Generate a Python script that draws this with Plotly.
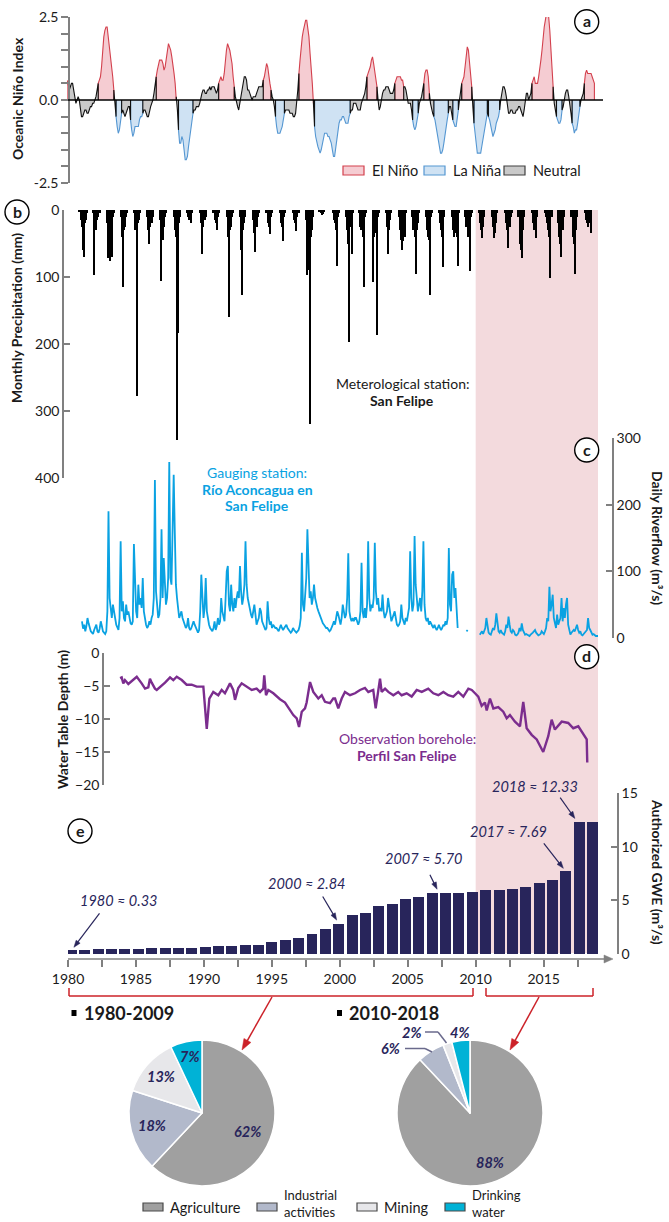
import math
import plotly.graph_objects as go

# ---------------------------------------------------------------- data
# Oceanic Niño Index, 3-month running means (DJF ... NDJ), 1980 - mid 2019
oni = [
    0.6, 0.5, 0.3, 0.4, 0.5, 0.5, 0.3, 0.0, -0.1, 0.0, 0.1, 0.0,            # 1980
    -0.3, -0.5, -0.5, -0.4, -0.3, -0.3, -0.4, -0.4, -0.3, -0.2, -0.2, -0.1,  # 1981
    -0.1, 0.0, 0.1, 0.3, 0.5, 0.6, 0.7, 1.0, 1.5, 1.9, 2.1, 2.2,            # 1982
    2.2, 1.9, 1.5, 1.3, 1.1, 0.7, 0.3, -0.1, -0.5, -0.8, -1.0, -0.9,        # 1983
    -0.6, -0.4, -0.3, -0.4, -0.5, -0.4, -0.3, -0.2, -0.2, -0.6, -0.9, -1.1,  # 1984
    -1.0, -0.8, -0.8, -0.8, -0.8, -0.6, -0.5, -0.5, -0.4, -0.3, -0.3, -0.4,  # 1985
    -0.5, -0.5, -0.3, -0.2, -0.1, 0.0, 0.2, 0.4, 0.7, 0.9, 1.1, 1.2,        # 1986
    1.2, 1.2, 1.1, 0.9, 1.0, 1.2, 1.5, 1.7, 1.6, 1.5, 1.3, 1.1,             # 1987
    0.8, 0.5, 0.1, -0.3, -0.9, -1.3, -1.3, -1.1, -1.2, -1.5, -1.8, -1.8,    # 1988
    -1.7, -1.4, -1.1, -0.8, -0.6, -0.4, -0.3, -0.3, -0.2, -0.2, -0.2, -0.1,  # 1989
    0.1, 0.2, 0.3, 0.3, 0.2, 0.2, 0.3, 0.3, 0.4, 0.3, 0.4, 0.4,             # 1990
    0.4, 0.3, 0.2, 0.3, 0.5, 0.6, 0.7, 0.6, 0.6, 0.8, 1.2, 1.5,             # 1991
    1.7, 1.6, 1.5, 1.3, 1.1, 0.7, 0.4, 0.1, -0.1, -0.2, -0.3, -0.1,         # 1992
    0.1, 0.3, 0.5, 0.7, 0.7, 0.6, 0.3, 0.3, 0.2, 0.1, 0.0, 0.1,             # 1993
    0.1, 0.1, 0.2, 0.3, 0.4, 0.4, 0.4, 0.4, 0.6, 0.7, 1.0, 1.1,             # 1994
    1.0, 0.7, 0.5, 0.3, 0.1, 0.0, -0.2, -0.5, -0.8, -1.0, -1.0, -1.0,       # 1995
    -0.9, -0.8, -0.6, -0.4, -0.3, -0.3, -0.3, -0.3, -0.4, -0.4, -0.4, -0.5,  # 1996
    -0.5, -0.4, -0.1, 0.3, 0.8, 1.2, 1.6, 1.9, 2.1, 2.3, 2.4, 2.4,          # 1997
    2.2, 1.9, 1.4, 1.0, 0.5, -0.1, -0.8, -1.1, -1.3, -1.4, -1.5, -1.6,      # 1998
    -1.5, -1.3, -1.1, -1.0, -1.0, -1.0, -1.1, -1.1, -1.2, -1.3, -1.5, -1.7,  # 1999
    -1.7, -1.4, -1.1, -0.8, -0.7, -0.6, -0.6, -0.5, -0.5, -0.6, -0.7, -0.7,  # 2000
    -0.7, -0.5, -0.4, -0.3, -0.3, -0.1, -0.1, -0.1, -0.2, -0.3, -0.3, -0.3,  # 2001
    -0.1, 0.0, 0.1, 0.2, 0.4, 0.7, 0.8, 0.9, 1.0, 1.2, 1.3, 1.1,            # 2002
    0.9, 0.6, 0.4, 0.0, -0.3, -0.2, 0.1, 0.2, 0.3, 0.3, 0.4, 0.4,           # 2003
    0.4, 0.3, 0.2, 0.2, 0.2, 0.3, 0.5, 0.6, 0.7, 0.7, 0.7, 0.7,             # 2004
    0.6, 0.6, 0.4, 0.4, 0.3, 0.1, -0.1, -0.1, -0.1, -0.3, -0.6, -0.8,       # 2005
    -0.9, -0.8, -0.6, -0.4, -0.1, 0.0, 0.1, 0.3, 0.5, 0.8, 0.9, 0.9,        # 2006
    0.7, 0.2, -0.1, -0.3, -0.4, -0.5, -0.6, -0.8, -1.1, -1.3, -1.5, -1.6,   # 2007
    -1.6, -1.5, -1.3, -1.0, -0.8, -0.6, -0.4, -0.2, -0.2, -0.4, -0.6, -0.7,  # 2008
    -0.8, -0.8, -0.6, -0.3, 0.0, 0.3, 0.5, 0.6, 0.7, 1.0, 1.4, 1.6,         # 2009
    1.5, 1.2, 0.8, 0.4, -0.2, -0.7, -1.0, -1.3, -1.6, -1.6, -1.6, -1.6,     # 2010
    -1.4, -1.2, -0.9, -0.7, -0.6, -0.4, -0.5, -0.6, -0.8, -1.0, -1.1, -1.0,  # 2011
    -0.9, -0.7, -0.6, -0.5, -0.3, 0.0, 0.2, 0.4, 0.4, 0.3, 0.1, -0.2,       # 2012
    -0.4, -0.4, -0.3, -0.3, -0.4, -0.4, -0.4, -0.3, -0.3, -0.2, -0.2, -0.3,  # 2013
    -0.4, -0.5, -0.3, 0.0, 0.2, 0.2, 0.0, 0.1, 0.2, 0.5, 0.6, 0.7,          # 2014
    0.5, 0.5, 0.5, 0.7, 0.9, 1.2, 1.5, 1.9, 2.2, 2.4, 2.6, 2.6,             # 2015
    2.5, 2.1, 1.6, 0.9, 0.4, -0.1, -0.4, -0.5, -0.6, -0.7, -0.7, -0.6,      # 2016
    -0.3, -0.2, 0.1, 0.2, 0.3, 0.3, 0.1, -0.1, -0.4, -0.7, -0.8, -1.0,      # 2017
    -0.9, -0.9, -0.7, -0.5, -0.2, 0.0, 0.1, 0.2, 0.5, 0.8, 0.9, 0.8,        # 2018
    0.8, 0.8, 0.8, 0.7, 0.6, 0.5,                                           # 2019
]
oni_start = 1980

# Monthly precipitation (mm), San Felipe, Jan-Dec, 1980-2018
precip_mm = [
    0, 3, 0, 15, 25, 60, 70, 20, 15, 5, 0, 0,        # 1980
    0, 0, 5, 97, 25, 30, 15, 10, 5, 0, 0, 0,         # 1981
    0, 0, 0, 20, 72, 76, 40, 70, 10, 5, 0, 0,        # 1982
    0, 0, 0, 10, 40, 115, 30, 25, 10, 5, 0, 0,       # 1983
    0, 0, 0, 5, 30, 25, 277, 20, 15, 5, 0, 0,        # 1984
    0, 0, 0, 10, 30, 51, 25, 20, 10, 0, 0, 0,        # 1985
    0, 0, 0, 15, 106, 45, 25, 10, 5, 0, 0, 0,        # 1986
    0, 0, 0, 10, 30, 40, 343, 184, 20, 10, 0, 0,     # 1987
    0, 0, 0, 5, 10, 15, 12, 20, 5, 0, 0, 0,          # 1988
    0, 0, 0, 5, 20, 65, 25, 15, 10, 0, 0, 0,         # 1989
    0, 0, 0, 5, 15, 20, 30, 10, 5, 0, 0, 0,          # 1990
    0, 0, 0, 10, 40, 160, 30, 25, 10, 5, 0, 0,       # 1991
    0, 0, 0, 10, 60, 127, 30, 20, 10, 0, 0, 0,       # 1992
    0, 0, 0, 15, 35, 62, 25, 10, 5, 0, 0, 0,         # 1993
    0, 0, 0, 5, 20, 25, 36, 10, 5, 0, 0, 0,          # 1994
    0, 0, 0, 5, 20, 25, 47, 10, 5, 0, 0, 0,          # 1995
    0, 0, 0, 5, 15, 20, 31, 10, 5, 0, 0, 0,          # 1996
    0, 0, 0, 15, 97, 90, 319, 40, 30, 10, 0, 0,      # 1997
    0, 0, 0, 2, 5, 8, 6, 3, 0, 0, 0, 0,              # 1998
    0, 0, 0, 5, 15, 20, 30, 83, 10, 5, 0, 0,         # 1999
    0, 0, 0, 10, 30, 50, 197, 25, 65, 5, 0, 0,       # 2000
    0, 0, 0, 5, 25, 30, 40, 115, 10, 5, 0, 0,        # 2001
    0, 0, 0, 107, 40, 30, 35, 187, 10, 5, 0, 0,      # 2002
    0, 0, 0, 5, 25, 66, 30, 15, 5, 0, 0, 0,          # 2003
    0, 0, 0, 10, 30, 45, 60, 47, 40, 5, 0, 0,        # 2004
    0, 0, 0, 10, 30, 40, 95, 30, 20, 5, 0, 0,        # 2005
    0, 0, 0, 10, 30, 40, 45, 127, 10, 5, 0, 0,       # 2006
    0, 0, 0, 5, 20, 30, 40, 85, 10, 0, 0, 0,         # 2007
    0, 0, 0, 10, 30, 40, 35, 40, 84, 5, 0, 0,        # 2008
    0, 0, 0, 10, 25, 40, 35, 91, 10, 5, 0, 0,        # 2009
    0, 0, 0, 5, 20, 30, 42, 25, 10, 0, 0, 0,         # 2010
    0, 0, 0, 10, 25, 42, 35, 20, 5, 0, 0, 0,         # 2011
    0, 0, 0, 5, 20, 30, 57, 25, 10, 5, 0, 0,         # 2012
    0, 0, 0, 10, 50, 60, 72, 30, 10, 0, 0, 0,        # 2013
    0, 0, 0, 5, 20, 30, 25, 42, 10, 0, 0, 0,         # 2014
    0, 0, 0, 5, 10, 20, 30, 40, 102, 10, 0, 0,       # 2015
    0, 0, 0, 20, 40, 50, 70, 30, 10, 0, 0, 0,        # 2016
    0, 0, 0, 10, 40, 50, 95, 30, 10, 0, 0, 0,        # 2017
    0, 0, 0, 5, 15, 20, 25, 20, 10, 34, 0, 0,        # 2018
]
precip_start = 1980

# Riverflow (m3/s), Río Aconcagua en San Felipe, monthly steps from May 1980
# (None = no record)
river_q = [
    25, 14, 20, 10, 18, 30, 22, 15,                              # 1980 (May-Dec)
    10, 8, 6, 12, 15, 20, 10, 8, 14, 25, 18, 10,                 # 1981
    8, 6, 10, 40, 190, 60, 45, 30, 50, 35, 30, 20,               # 1982
    15, 12, 30, 145, 40, 55, 30, 25, 50, 35, 40, 30,             # 1983
    22, 20, 25, 141, 100, 40, 30, 80, 50, 60, 45, 90,            # 1984
    40, 25, 20, 15, 18, 25, 20, 30, 35, 60, 237, 70,             # 1985
    40, 30, 35, 60, 163, 60, 120, 80, 50, 60, 90, 264,           # 1986
    90, 80, 150, 245, 160, 80, 60, 40, 30, 35, 40, 30,           # 1987
    25, 20, 15, 18, 30, 15, 12, 15, 20, 25, 20, 15,              # 1988
    10, 8, 12, 40, 95, 60, 30, 45, 90, 40, 25, 20,               # 1989
    15, 12, 10, 15, 25, 12, 18, 30, 20, 25, 60, 40,              # 1990
    30, 25, 60, 100, 108, 50, 40, 80, 50, 40, 60, 45,            # 1991
    60, 70, 60, 108, 70, 50, 60, 80, 145, 80, 60, 50,            # 1992
    40, 35, 30, 40, 50, 35, 20, 25, 30, 45, 40, 25,              # 1993
    20, 15, 12, 15, 55, 30, 20, 25, 15, 20, 18, 15,              # 1994
    15, 12, 10, 15, 20, 15, 12, 15, 18, 20, 15, 12,              # 1995
    10, 8, 10, 15, 12, 10, 8, 10, 12, 18, 30, 128,               # 1996
    50, 40, 60, 90, 163, 100, 60, 70, 50, 60, 80, 60,            # 1997
    50, 45, 40, 35, 30, 25, 22, 20, 18, 15, 15, 12,              # 1998
    10, 12, 15, 20, 25, 20, 30, 40, 35, 25, 20, 30,              # 1999
    50, 40, 30, 35, 60, 127, 40, 30, 25, 30, 25, 30,             # 2000
    30, 25, 20, 25, 40, 113, 40, 30, 45, 30, 50, 145,            # 2001
    60, 40, 50, 45, 60, 143, 70, 50, 60, 40, 45, 40,             # 2002
    65, 40, 30, 35, 40, 60, 45, 30, 25, 30, 35, 40,              # 2003
    30, 20, 18, 20, 25, 50, 30, 25, 20, 30, 25, 35,              # 2004
    45, 130, 60, 40, 50, 153, 80, 60, 40, 50, 60, 40,            # 2005
    70, 145, 50, 30, 25, 30, 20, 25, 20, 18, 15, 20,             # 2006
    15, 12, 15, 20, 15, 12, 15, 20, 18, 25, 20, 30,              # 2007
    135, 50, 40, 95, 100, 60, 75, 40, 15, None, None, None,      # 2008
    None, None, None, None, 10, 12, None, None, None, None, None, None,  # 2009
    None, None, None, None, 5, 8, 10, 6, 12, 15, 30, 20,         # 2010
    8, 6, 5, 10, 15, 12, 20, 37, 25, 10, 8, 12,                  # 2011
    8, 6, 5, 10, 20, 15, 32, 20, 10, 8, 12, 10,                  # 2012
    5, 4, 5, 8, 15, 10, 22, 12, 8, 5, 6, 5,                      # 2013
    4, 3, 5, 6, 8, 10, 12, 8, 6, 4, 5, 6,                        # 2014
    10, 8, 6, 10, 15, 30, 25, 77, 40, 50, 65, 30,                # 2015
    20, 15, 35, 20, 25, 30, 60, 25, 45, 30, 50, 60,              # 2016
    20, 10, 5, 8, 10, 12, 10, 15, 20, 12, 8, 10,                 # 2017
    5, 4, 6, 8, 10, 12, 30, 15, 12, 8, 5, 6,                     # 2018
    4, 3, 3, 3,                                                  # 2019
]
river_start = 1980 + 4.5 / 12

# Water table depth (m), observation borehole Perfil San Felipe
wt_t = [
    1983.83, 1983.95, 1984.07, 1984.19, 1984.44, 1984.69, 1985.06, 1985.42, 1985.67, 1985.91,
    1986.03, 1986.16, 1986.40, 1986.53, 1986.77, 1987.14, 1987.51, 1987.75, 1988.00, 1988.37,
    1988.73, 1989.10, 1989.47, 1989.96, 1990.21, 1990.40, 1990.69, 1991.06, 1991.31, 1991.55,
    1991.92, 1992.16, 1992.29, 1992.53, 1992.78, 1993.15, 1993.52, 1993.88, 1994.13, 1994.37,
    1994.44, 1994.57, 1994.74, 1995.11, 1995.36, 1995.60, 1995.97, 1996.21, 1996.58, 1996.83,
    1997.00, 1997.20, 1997.44, 1997.56, 1997.81, 1998.05, 1998.42, 1998.67, 1998.91, 1999.28,
    1999.52, 1999.65, 1999.89, 2000.14, 2000.38, 2000.75, 2001.12, 2001.49, 2001.85, 2002.10,
    2002.46, 2002.64, 2002.79, 2002.96, 2003.08, 2003.33, 2003.57, 2003.94, 2004.30, 2004.55,
    2004.92, 2005.29, 2005.66, 2006.03, 2006.51, 2006.88, 2007.25, 2007.62, 2007.98, 2008.35,
    2008.72, 2009.09, 2009.46, 2009.71, 2009.95, 2010.19, 2010.44, 2010.68, 2010.81, 2011.05,
    2011.30, 2011.66, 2012.03, 2012.28, 2012.52, 2012.89, 2013.26, 2013.50, 2013.75, 2014.12,
    2014.49, 2014.97, 2015.34, 2015.59, 2015.83, 2016.33, 2016.81, 2017.18, 2017.55, 2017.92,
    2018.17, 2018.21,
]
wt_m = [
    -3.8, -3.7, -4.6, -4.1, -4.7, -4.2, -3.6, -4.6, -5.4, -5.2,
    -3.9, -4.5, -5.4, -5.6, -5.2, -4.5, -3.7, -4.1, -3.6, -4.1,
    -4.8, -4.8, -5.1, -5.1, -11.5, -6.9, -5.9, -6.4, -5.6, -6.1,
    -4.6, -5.6, -7.1, -5.3, -4.6, -5.1, -5.6, -5.4, -5.9, -5.4,
    -3.4, -6.4, -5.6, -6.1, -6.6, -7.0, -7.5, -8.2, -9.4, -9.9,
    -11.2, -8.9, -8.4, -7.5, -4.4, -5.9, -6.9, -6.4, -7.4, -7.6,
    -6.9, -6.9, -8.4, -6.9, -5.9, -6.4, -6.1, -5.6, -5.3, -5.9,
    -5.6, -8.4, -5.9, -3.9, -5.9, -5.4, -5.9, -6.4, -5.9, -6.4,
    -6.1, -6.6, -5.6, -5.9, -5.4, -6.1, -6.4, -5.9, -6.4, -6.6,
    -5.9, -6.6, -5.4, -5.6, -6.1, -6.6, -8.0, -7.5, -8.7, -6.9,
    -8.4, -8.2, -8.9, -9.9, -9.4, -10.4, -11.1, -7.4, -11.4, -12.4,
    -13.1, -15.0, -12.6, -10.1, -11.6, -10.4, -10.6, -11.4, -11.1, -12.4,
    -13.1, -16.6,
]

# Authorized groundwater extraction (m3/s), 1980-2019
gwe_years = list(range(1980, 2020))
gwe = [
    0.33, 0.40, 0.42, 0.46, 0.48, 0.50, 0.53, 0.55, 0.57, 0.60,
    0.63, 0.72, 0.78, 0.84, 0.87, 1.08, 1.27, 1.45, 1.85, 2.34,
    2.84, 3.68, 3.86, 4.48, 4.69, 5.12, 5.33, 5.70, 5.70, 5.72,
    5.82, 5.95, 6.00, 6.04, 6.25, 6.64, 6.90, 7.69, 12.33, 12.33,
]
gwe_callouts = [(1980, 0.33), (2000, 2.84), (2007, 5.70), (2017, 7.69), (2018, 12.33)]

# Water-use shares (%)
uses = ["Agriculture", "Industrial activities", "Mining", "Drinking water"]
share_1980_2009 = [62, 18, 13, 7]
share_2010_2018 = [88, 6, 2, 4]

# ---------------------------------------------------------------- styling
W, H = 669, 1222
FONT = "Lato"
INK = "#1a1a1a"
GRAY = "#808080"
NAVY = "#28255b"
RED = "#cc2229"
RIVER = "#0aa2e2"
PURPLE = "#7b2d8e"
PINK_BAND = "#f3dadd"
USE_COLORS = ["#a0a0a0", "#b2b9cb", "#e7e7ea", "#00b2d6"]
ENSO = {"E": ("#f5ccd2", "#d3404d"), "L": ("#cfe2f3", "#5597d2"), "N": ("#c9c9c9", "#111111")}

# axis geometry (pixels on the page)
GWE_X_RANGE = [1980 - 3.5 / 13.36, 1980 + (598 - 71.5) / 13.36]
GWE_X_PX = (68, 598)
GWE_Y_RANGE = [0, 15]
GWE_Y_PX = (954, 793)


def px(x):
    return x / W


def py(y):
    return 1 - y / H


def gwe_to_px(year, value):
    fx = (year - GWE_X_RANGE[0]) / (GWE_X_RANGE[1] - GWE_X_RANGE[0])
    fy = (value - GWE_Y_RANGE[0]) / (GWE_Y_RANGE[1] - GWE_Y_RANGE[0])
    return (GWE_X_PX[0] + fx * (GWE_X_PX[1] - GWE_X_PX[0]),
            GWE_Y_PX[0] + fy * (GWE_Y_PX[1] - GWE_Y_PX[0]))


fig = go.Figure()

# ---------------------------------------------------------------- (a) ONI
def enso_phase(vals, thr=0.5, run=5):
    n = len(vals)
    ph = ["N"] * n
    for sign, tag in ((1, "E"), (-1, "L")):
        i = 0
        while i < n:
            if sign * vals[i] >= thr:
                j = i
                while j + 1 < n and sign * vals[j + 1] >= thr:
                    j += 1
                if j - i + 1 >= run or i == 0 or j == n - 1:
                    for k in range(i, j + 1):
                        ph[k] = tag
                i = j + 1
            else:
                i += 1
    return ph


phase = enso_phase(oni)
t_oni = [oni_start + k / 12 for k in range(len(oni))]
n = len(oni)
segments = []
k = 0
while k < n:
    j = k
    while j + 1 < n and phase[j + 1] == phase[k]:
        j += 1
    end = min(j + 1, n - 1)
    xs = [t_oni[k]] + t_oni[k:end + 1] + [t_oni[end]]
    ys = [0] + oni[k:end + 1] + [0]
    segments.append((phase[k], xs, ys))
    k = j + 1

for tag in ("E", "L", "N"):
    for ph, xs, ys in segments:
        if ph != tag:
            continue
        fig.add_trace(go.Scatter(
            x=xs, y=ys, xaxis="x2", yaxis="y2", mode="lines", fill="toself",
            fillcolor=ENSO[tag][0], line=dict(color=ENSO[tag][1], width=1.1),
            hoverinfo="skip", showlegend=False))

# ---------------------------------------------------------------- (b) precipitation
t_pr = [precip_start + (k + 0.5) / 12 for k in range(len(precip_mm))]
fig.add_trace(go.Bar(
    x=t_pr, y=precip_mm, xaxis="x3", yaxis="y3", width=1 / 12,
    marker=dict(color="black", line=dict(width=0)), showlegend=False, hoverinfo="skip"))

# ---------------------------------------------------------------- (c) riverflow
river_t = [river_start + k / 12 for k in range(len(river_q))]
fig.add_trace(go.Scatter(
    x=river_t, y=river_q, xaxis="x3", yaxis="y4", mode="lines",
    line=dict(color=RIVER, width=1.8), connectgaps=False, showlegend=False, hoverinfo="skip"))

# ---------------------------------------------------------------- (d) water table
fig.add_trace(go.Scatter(
    x=wt_t, y=wt_m, xaxis="x", yaxis="y5", mode="lines",
    line=dict(color=PURPLE, width=2.4), showlegend=False, hoverinfo="skip"))

# ---------------------------------------------------------------- (e) authorized GWE
fig.add_trace(go.Bar(
    x=gwe_years, y=gwe, xaxis="x4", yaxis="y", width=0.82,
    marker=dict(color=NAVY, line=dict(width=0)), showlegend=False, hoverinfo="skip"))

# ---------------------------------------------------------------- pies
PIE_R = 73
pies = [(202, 1113, share_1980_2009), (470, 1113, share_2010_2018)]
for cx, cy, vals in pies:
    fig.add_trace(go.Pie(
        values=vals, labels=uses, sort=False, direction="clockwise", rotation=0,
        domain=dict(x=[px(cx - PIE_R), px(cx + PIE_R)], y=[py(cy + PIE_R), py(cy - PIE_R)]),
        marker=dict(colors=USE_COLORS, line=dict(color="white", width=1.5)),
        textinfo="none", showlegend=False, hoverinfo="skip"))

# ---------------------------------------------------------------- axes
tick_font = dict(family=FONT, size=14, color=INK)
common = dict(showgrid=False, zeroline=False, automargin=False)

fig.update_layout(
    template="none",
    width=W, height=H, autosize=False,
    margin=dict(l=0, r=0, t=0, b=0, pad=0, autoexpand=False),
    paper_bgcolor="white", plot_bgcolor="rgba(0,0,0,0)",
    font=dict(family=FONT, color=INK),
    showlegend=False,
    bargap=0,
    xaxis=dict(domain=[px(68), px(598)], range=[1980, 2019], anchor="free", position=py(959),
               tickvals=[1980, 1985, 1990, 1995, 2000, 2005, 2010, 2015],
               ticks="outside", ticklen=7, tickwidth=1.5, tickcolor=GRAY,
               minor=dict(tickvals=[1982.5 + 5 * i for i in range(8)], ticks="outside",
                          ticklen=7, tickwidth=1.5, tickcolor=GRAY, showgrid=False),
               showline=False, tickfont=tick_font, **common),
    xaxis2=dict(domain=[px(67), px(598)], range=[1980, 1980 + 531 / 13.38], anchor="y2",
                visible=False, **common),
    xaxis3=dict(domain=[px(77), px(598)], range=[1980, 1980 + 521 / 13.26], anchor="y3",
                visible=False, **common),
    xaxis4=dict(domain=[px(GWE_X_PX[0]), px(GWE_X_PX[1])], range=GWE_X_RANGE,
                anchor="y", visible=False, **common),
    yaxis=dict(domain=[py(GWE_Y_PX[0]), py(GWE_Y_PX[1])], range=GWE_Y_RANGE, anchor="free",
               position=px(618), side="right", tickvals=[0, 5, 10, 15], ticks="inside",
               ticklen=6, tickwidth=1.5, tickcolor=GRAY, showline=True, linecolor=GRAY,
               linewidth=1.5, tickfont=tick_font, **common),
    yaxis2=dict(domain=[py(183), py(17)], range=[-2.5, 2.5], anchor="free", position=px(69),
                tickvals=[-2.5, 0, 2.5], ticktext=["-2.5", "0.0", "2.5"],
                ticks="outside", ticklen=7, tickwidth=1.5, tickcolor=GRAY,
                minor=dict(tickvals=[-2.0, -1.5, -1.0, -0.5, 0.5, 1.0, 1.5, 2.0],
                           ticks="outside", ticklen=7, tickwidth=1.5, tickcolor=GRAY,
                           showgrid=False),
                showline=True, linecolor=GRAY, linewidth=1.5, tickfont=tick_font, **common),
    yaxis3=dict(domain=[py(478), py(210)], range=[400, 0], anchor="free", position=px(63),
                tickvals=[0, 100, 200, 300, 400], ticks="inside", ticklen=6, tickwidth=1.5,
                tickcolor=GRAY, showline=True, linecolor=GRAY, linewidth=1.5, tickfont=tick_font,
                **common),
    yaxis4=dict(domain=[py(638), py(438)], range=[0, 300], anchor="free", position=px(613),
                side="right", tickvals=[0, 100, 200, 300], ticks="inside", ticklen=6, tickwidth=1.5,
                tickcolor=GRAY, showline=True, linecolor=GRAY, linewidth=1.5, tickfont=tick_font,
                **common),
    yaxis5=dict(domain=[py(785), py(653)], range=[-20, 0], anchor="free", position=px(103),
                tickvals=[0, -5, -10, -15, -20], ticks="inside", ticklen=6, tickwidth=1.5,
                tickcolor=GRAY, showline=True, linecolor=GRAY, linewidth=1.5, tickfont=tick_font,
                **common),
)

# ---------------------------------------------------------------- helpers
def text(x, y, s, size=14, color=INK, bold=False, italic=False, angle=0, xanchor="center",
         yanchor="middle"):
    if bold:
        s = f"<b>{s}</b>"
    if italic:
        s = f"<i>{s}</i>"
    fig.add_annotation(x=px(x), y=py(y), xref="paper", yref="paper", text=s, showarrow=False,
                       font=dict(family=FONT, size=size, color=color), textangle=angle,
                       xanchor=xanchor, yanchor=yanchor, align="left", borderpad=0)


def seg(x0, y0, x1, y1, color, width=1.5):
    fig.add_shape(type="line", xref="paper", yref="paper", x0=px(x0), y0=py(y0), x1=px(x1),
                  y1=py(y1), line=dict(color=color, width=width), layer="above")


def box(x0, y0, x1, y1, fill, edge, width=1.2):
    fig.add_shape(type="rect", xref="paper", yref="paper", x0=px(x0), y0=py(y1), x1=px(x1),
                  y1=py(y0), fillcolor=fill, line=dict(color=edge, width=width), layer="above")


def arrow(x0, y0, x1, y1, color, width=1.5, head_len=8, head_w=6):
    """Straight arrow from (x0, y0) to the tip (x1, y1), page pixels."""
    dx, dy = x1 - x0, y1 - y0
    L = math.hypot(dx, dy)
    ux, uy = dx / L, dy / L
    bx, by = x1 - ux * head_len, y1 - uy * head_len
    seg(x0, y0, bx + ux, by + uy, color, width)
    nx, ny = -uy * head_w / 2, ux * head_w / 2
    path = (f"M {px(x1)},{py(y1)} L {px(bx + nx)},{py(by + ny)} "
            f"L {px(bx - nx)},{py(by - ny)} Z")
    fig.add_shape(type="path", xref="paper", yref="paper", path=path, fillcolor=color,
                  line=dict(color=color, width=0.5), layer="above")


def badge(x, y, letter):
    r = 12
    fig.add_shape(type="circle", xref="paper", yref="paper", x0=px(x - r), x1=px(x + r),
                  y0=py(y + r), y1=py(y - r), line=dict(color="black", width=1.4),
                  fillcolor="white", layer="above")
    text(x, y - 1, letter, size=16, bold=True)


# ---------------------------------------------------------------- background band 2010-2019
fig.add_shape(type="rect", xref="x", yref="paper", x0=2010, x1=2019, y0=py(953), y1=py(210),
              fillcolor=PINK_BAND, line=dict(width=0), layer="below")

# ONI zero line
fig.add_shape(type="line", xref="paper", yref="y2", x0=px(68), x1=px(603), y0=0, y1=0,
              line=dict(color="black", width=1.3), layer="above")

# ONI legend
for x0, label, tag in ((343, "El Niño", "E"), (424, "La Niña", "L"), (504, "Neutral", "N")):
    edge = ENSO[tag][1] if tag != "N" else "#404040"
    box(x0, 166, x0 + 21, 175, ENSO[tag][0], edge)
    text(x0 + 28, 170.5, label, size=14.5, xanchor="left")

# axis titles
text(17, 99, "Oceanic Niño Index", size=14, bold=True, angle=-90)
text(17, 318, "Monthly Precipitation (mm)", size=14, bold=True, angle=-90)
text(658, 538, "Daily Riverflow (m³/s)", size=14, bold=True, angle=90)
text(63, 719, "Water Table Depth (m)", size=14, bold=True, angle=-90)
text(658, 872, "Authorized GWE (m³/s)", size=14, bold=True, angle=90)

# station captions
text(402, 383, "Meterological station:", size=14)
text(402, 400, "San Felipe", size=14, bold=True)
text(257, 473, "Gauging station:", size=14, color=RIVER)
text(257, 489, "Río Aconcagua en", size=14, color=RIVER, bold=True)
text(257, 505, "San Felipe", size=14, color=RIVER, bold=True)
text(407, 738, "Observation borehole:", size=14, color=PURPLE)
text(407, 755, "Perfil San Felipe", size=14, color=PURPLE, bold=True)

# panel badges
badge(586.7, 21.7, "a")
badge(17, 212, "b")
badge(586.7, 450, "c")
badge(586.7, 656.7, "d")
badge(80, 831, "e")

# GWE call-outs: arrow tail offsets from the bar top (px) and label centres (px)
callout_tail = {1980: (28, -37), 2000: (-16, -27), 2007: (-9, -18), 2017: (-22, -28), 2018: (-17, -24)}
callout_text = {1980: (118, 900), 2000: (306, 883), 2007: (423, 858), 2017: (508, 831), 2018: (535, 786)}
for yr, val in gwe_callouts:
    xoff = 0.5 if yr == 2007 else (-0.15 if yr == 2018 else 0.0)
    hx, hy = gwe_to_px(yr + xoff, val)
    dx, dy = callout_tail[yr]
    L = math.hypot(dx, dy)
    tip_x, tip_y = hx + dx / L * 4, hy + dy / L * 4
    arrow(hx + dx, hy + dy, tip_x, tip_y, NAVY, width=1.2, head_len=7, head_w=5)
    tx, ty = callout_text[yr]
    text(tx, ty, f"{yr} ≈ {val:.2f}", size=14.5, color=NAVY, italic=True)

# time axis with arrow head
arrow(68, 959, 613, 959, GRAY, width=1.6, head_len=9, head_w=8)

# period brackets and arrows to the pies
for xa, xb in ((69, 473), (486, 593)):
    seg(xa, 988, xa, 996, RED)
    seg(xa, 996, xb, 996, RED)
    seg(xb, 996, xb, 988, RED)
arrow(272, 997, 242, 1050, RED, width=1.5, head_len=11, head_w=8)
arrow(539, 997, 510, 1050, RED, width=1.5, head_len=11, head_w=8)

# period headers
box(71.5, 1010, 76.5, 1016, "black", "black", 0)
text(83, 1013, "1980-2009", size=18, bold=True, xanchor="left")
box(337, 1010, 342, 1016, "black", "black", 0)
text(348, 1013, "2010-2018", size=18, bold=True, xanchor="left")


# pie percentage labels placed at slice mid-angles
def slice_point(cx, cy, vals, idx, frac):
    total = sum(vals)
    a = (sum(vals[:idx]) + vals[idx] / 2) / total * 2 * math.pi
    return cx + frac * PIE_R * math.sin(a), cy - frac * PIE_R * math.cos(a)


for idx, frac in ((0, 0.67), (1, 0.71), (2, 0.75), (3, 0.79)):
    x, y = slice_point(202, 1113, share_1980_2009, idx, frac)
    text(x, y, f"{share_1980_2009[idx]}%", size=14.5, color=NAVY, bold=True, italic=True)
x, y = slice_point(470, 1113, share_2010_2018, 0, 0.73)
text(x, y, f"{share_2010_2018[0]}%", size=14.5, color=NAVY, bold=True, italic=True)

LEAD = "#6a6a8c"
text(390, 1048, f"{share_2010_2018[1]}%", size=14.5, color=NAVY, bold=True, italic=True)
seg(405, 1048.5, 425, 1048.5, LEAD)
seg(425, 1048.5, 432, 1052, LEAD)
text(411, 1032, f"{share_2010_2018[2]}%", size=14.5, color=NAVY, bold=True, italic=True)
seg(425, 1032, 438, 1032, LEAD)
seg(438, 1032, 446.5, 1043, LEAD)
text(460, 1032, f"{share_2010_2018[3]}%", size=14.5, color=NAVY, bold=True, italic=True)

# water-use legend
legend_items = [(143, "Agriculture"), (257, "Industrial<br>activities"),
                (357, "Mining"), (445, "Drinking<br>water")]
for (x0, label), color in zip(legend_items, USE_COLORS):
    box(x0, 1203, x0 + 20, 1211, color, "#4a4a4a")
    if "<br>" in label:
        text(x0 + 26, 1220.5, label, size=13, xanchor="left", yanchor="bottom")
    else:
        text(x0 + 26, 1207, label, size=14.5, xanchor="left")

fig.write_html("out.html")
